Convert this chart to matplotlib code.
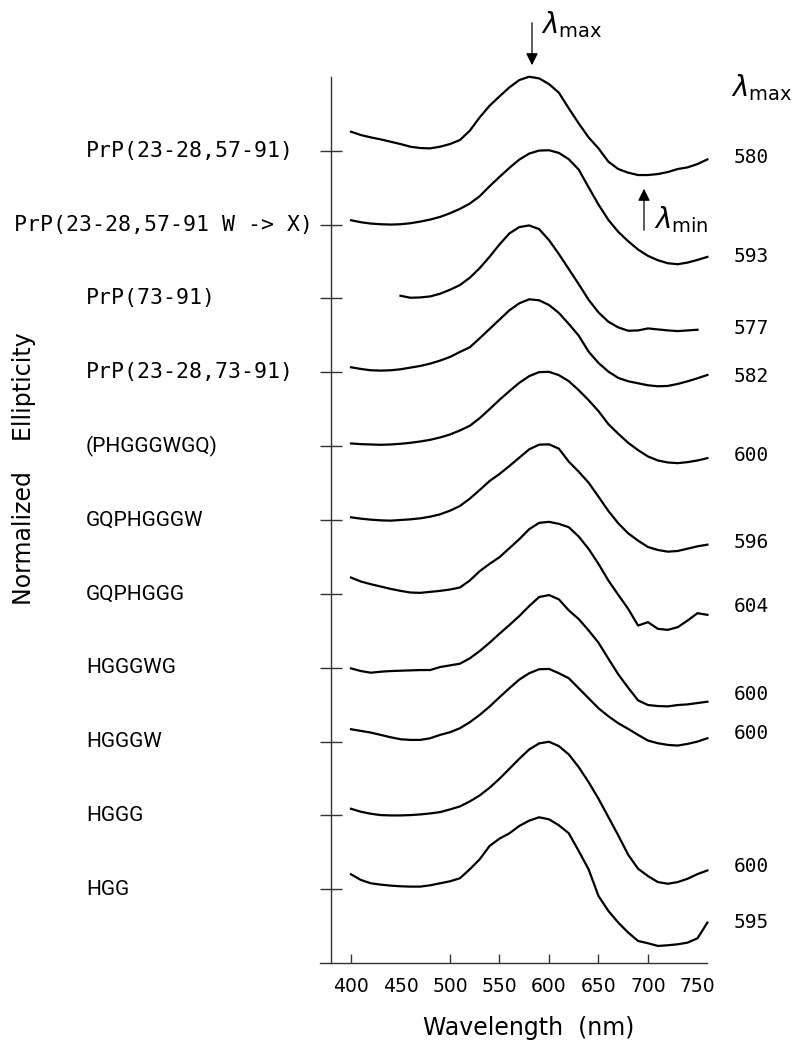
import numpy as np
import matplotlib
matplotlib.use("Agg")
import matplotlib.pyplot as plt
from matplotlib.transforms import blended_transform_factory

# ---------------- data ----------------
WAVELENGTH = list(range(400, 761, 10))  # nm

LABELS = ["PrP(23-28,57-91)", "PrP(23-28,57-91 W -> X)", "PrP(73-91)",
          "PrP(23-28,73-91)", "(PHGGGWGQ)", "GQPHGGGW", "GQPHGGG",
          "HGGGWG", "HGGGW", "HGGG", "HGG"]
LAMBDA_MAX = [580, 593, 577, 582, 600, 596, 604, 600, 600, 600, 595]

NAN = float("nan")
E_PRP_57_91 = [57, 47, 40, 34, 27, 20, 12, 8, 7, 12, 20, 32, 60, 100, 135, 163, 190,
               212, 222, 217, 200, 174, 127, 82, 40, 7, -33, -55, -66, -73, -73,
               -70, -64, -55, -50, -40, -26]
E_PRP_57_91_WX = [13, 7, 3, 1, 0, 1, 4, 9, 15, 23, 34, 47, 63, 85, 115, 143, 170,
                  195, 213, 222, 223, 215, 196, 165, 112, 60, 14, -22, -50, -75,
                  -94, -107, -116, -119, -114, -106, -97]
E_PRP_73_91 = [NAN, NAN, NAN, NAN, NAN, 8, 2, 3, 6, 14, 26, 40, 62, 91, 125, 162,
               195, 214, 219, 208, 175, 133, 88, 43, -4, -42, -70, -87, -97, -96,
               -90, -93, -96, -98, -96, -94, NAN]
E_PRP_73_91_N = [15, 10, 6, 5, 6, 9, 14, 19, 26, 35, 46, 61, 75, 102, 130, 158, 186,
                 207, 219, 216, 202, 178, 145, 110, 62, 28, 2, -17, -27, -33, -39,
                 -42, -41, -35, -27, -18, -8]
E_PHGGGWGQ = [8, 6, 5, 4, 5, 7, 10, 14, 19, 26, 35, 47, 61, 84, 111, 139, 165, 190,
              210, 222, 223, 213, 195, 168, 138, 105, 66, 37, 10, -12, -31, -43,
              -49, -51, -48, -43, -36]
E_GQPHGGGW = [8, 4, 1, -1, -2, 0, 2, 5, 10, 17, 28, 42, 64, 90, 117, 138, 162, 187,
              212, 226, 227, 214, 175, 145, 112, 70, 27, -10, -40, -62, -81, -90,
              -95, -93, -86, -79, -74]
E_GQPHGGG = [49, 37, 29, 22, 15, 9, 4, 3, 6, 9, 13, 19, 40, 68, 90, 110, 137, 164,
             194, 213, 216, 210, 200, 172, 135, 90, 40, -3, -45, -95, -85, -105,
             -108, -100, -80, -58, -63]
E_HGGGWG = [-2, -10, -15, -12, -10, -9, -8, -7, -7, 2, 7, 12, 28, 50, 75, 102, 128,
            155, 185, 212, 218, 205, 172, 146, 112, 75, 27, -20, -60, -98, -112,
            -115, -116, -112, -110, -106, -102]
E_HGGGW = [37, 32, 27, 20, 13, 7, 5, 5, 10, 20, 28, 40, 58, 80, 105, 133, 160, 186,
           205, 217, 218, 205, 190, 160, 130, 100, 76, 55, 38, 20, 3, -5, -10, -12,
           -7, 0, 10]
E_HGGG = [20, 11, 5, 1, 0, 0, 1, 3, 6, 10, 18, 27, 42, 60, 83, 110, 140, 170, 198,
          216, 221, 208, 183, 145, 100, 50, -5, -60, -118, -160, -182, -200, -205,
          -200, -190, -176, -165]
E_HGG = [45, 28, 18, 14, 11, 9, 8, 8, 12, 18, 24, 33, 60, 90, 130, 152, 168, 190,
         206, 216, 210, 192, 168, 115, 60, -20, -65, -100, -130, -155, -162, -170,
         -168, -165, -160, -147, -100]

SPECTRA = [E_PRP_57_91, E_PRP_57_91_WX, E_PRP_73_91, E_PRP_73_91_N, E_PHGGGWGQ,
           E_GQPHGGGW, E_GQPHGGG, E_HGGGWG, E_HGGGW, E_HGGG, E_HGG]
XTICKS = [400, 450, 500, 550, 600, 650, 700, 750]

# ---------------- layout ----------------
W, H = 806, 1050
fig = plt.figure(figsize=(W / 100, H / 100), dpi=100)


def fx(px):
    return px / W


def fy(py):
    return 1 - py / H


OFFSET = 221.6
n = len(SPECTRA)
ax = fig.add_axes([fx(320), fy(962.7), (707 - 320) / W, (962.7 - 77) / H])
ax.set_xlim(368.7, 759.6)
ax.set_ylim(-0.994 * OFFSET, 10.998 * OFFSET)

for i, vals in enumerate(SPECTRA):
    base = (n - 1 - i) * OFFSET
    ax.plot(WAVELENGTH, np.array(vals, dtype=float) + base, color="black",
            lw=1.6, clip_on=False, solid_joinstyle="round")

for s in ("top", "right"):
    ax.spines[s].set_visible(False)
ax.spines["left"].set_position(("data", 379.5))
ax.spines["left"].set_linewidth(1.0)
ax.spines["left"].set_color("#333333")
ax.spines["bottom"].set_linewidth(1.0)
ax.spines["bottom"].set_color("#333333")

ax.set_yticks([(n - 1 - i) * OFFSET for i in range(n)])
ax.set_yticklabels([])
ax.tick_params(axis="y", direction="inout", length=16, width=1, color="#333333")
ax.set_xticks(XTICKS)
ax.set_xticklabels([str(t) for t in XTICKS])
ax.tick_params(axis="x", direction="in", length=6.5, width=1, pad=10,
               labelsize=13.5, color="#333333")
for t, val in zip(ax.xaxis.get_major_ticks(), XTICKS):
    if val in (450, 750):
        t.tick1line.set_visible(False)

trans = blended_transform_factory(fig.transFigure, ax.transData)
for i, lab in enumerate(LABELS):
    y = (n - 1 - i) * OFFSET
    if i < 4:
        if "W ->" in lab:
            fig.text(fx(313), y, lab, transform=trans, ha="right", va="center",
                     family="DejaVu Sans Mono", fontsize=15.5)
        else:
            fig.text(fx(86), y, lab, transform=trans, ha="left", va="center",
                     family="DejaVu Sans Mono", fontsize=15.5)
    else:
        fig.text(fx(86), y, lab, transform=trans, ha="left", va="center",
                 family="Roboto", fontsize=15)

NUM_Y = [157.5, 256.7, 328, 376.7, 455.5, 542.7, 606.7, 695, 733.7, 866, 922]
for v, py in zip(LAMBDA_MAX, NUM_Y):
    fig.text(fx(734), fy(py), str(v), ha="left", va="center",
             family="DejaVu Sans Mono", fontsize=14)

# headers and arrows
fig.text(fx(731), fy(88), r"$\lambda_{\mathrm{max}}$", fontsize=20, ha="left", va="center")
fig.text(fx(541), fy(25), r"$\lambda_{\mathrm{max}}$", fontsize=20, ha="left", va="center")
fig.text(fx(654), fy(220), r"$\lambda_{\mathrm{min}}$", fontsize=20, ha="left", va="center")
ax.annotate("", xy=(fx(532), fy(68)), xytext=(fx(532), fy(20)),
            xycoords="figure fraction", textcoords="figure fraction",
            arrowprops=dict(arrowstyle="-|>", color="black", lw=0.9, mutation_scale=18))
ax.annotate("", xy=(fx(644), fy(186)), xytext=(fx(644), fy(233)),
            xycoords="figure fraction", textcoords="figure fraction",
            arrowprops=dict(arrowstyle="-|>", color="black", lw=0.9, mutation_scale=18))

fig.text(fx(24), fy(469), "Normalized    Ellipticity", rotation=90, ha="center",
         va="center", fontsize=17)
fig.text(fx(529), fy(1028), "Wavelength  (nm)", ha="center", va="center", fontsize=17)

fig.savefig("out.png", dpi=100)
